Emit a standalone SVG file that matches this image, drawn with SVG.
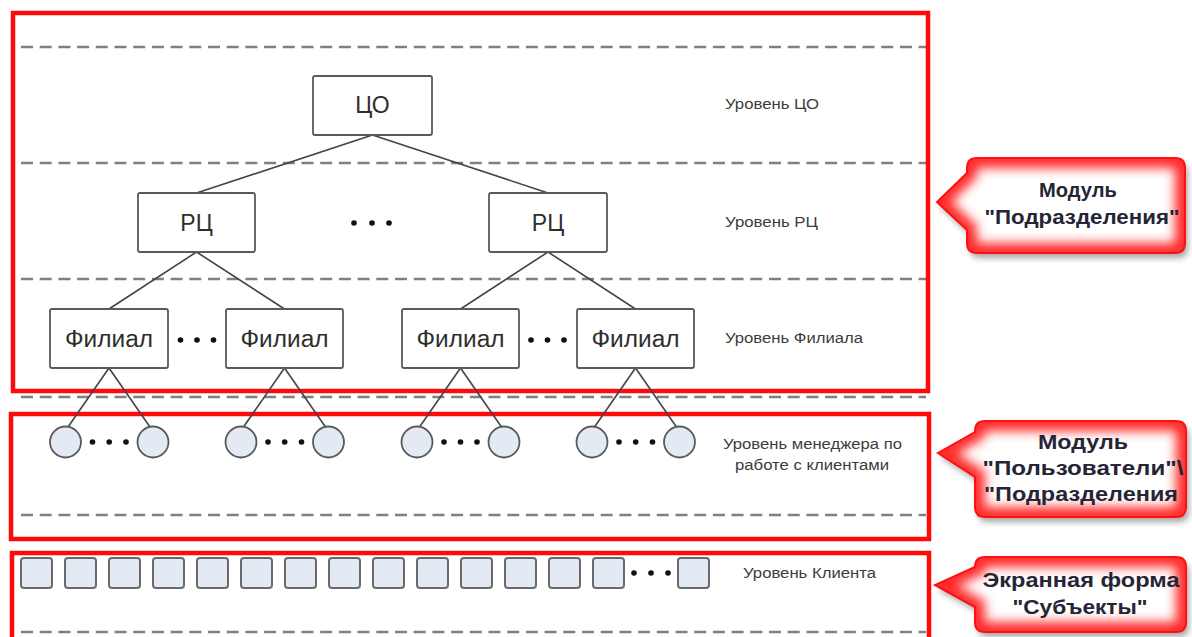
<svg xmlns="http://www.w3.org/2000/svg" xmlns:xlink="http://www.w3.org/1999/xlink" width="1192" height="637" viewBox="0 0 1192 637">
  <style>
    .frame { fill: none; stroke: #ff0a0a; stroke-width: 4.5; }
    .dash { stroke: #808080; stroke-width: 2.5; stroke-dasharray: 12 6.7; fill: none; }
    .box { fill: #ffffff; stroke: #5a5a5a; stroke-width: 1.8; }
    .boxtext { font-family: "Liberation Sans", Arial, sans-serif; font-size: 23px; fill: #2e2e2e; text-anchor: middle; }
    .mgr { fill: #e4eaf4; stroke: #5a5a5a; stroke-width: 1.8; }
    .client { fill: #e4eaf4; stroke: #6a6a6a; stroke-width: 2; }
    .dot { fill: #111111; }
    .edge { stroke: #444444; stroke-width: 1.6; fill: none; }
    .level { font-family: "Liberation Sans", Arial, sans-serif; font-size: 14px; fill: #3c3c3c; }
    .callout-bg { fill: #ffffff; }
    .glow { fill: none; stroke: #ff2a2a; stroke-width: 20; filter: url(#soft); }
    .callout-edge { fill: none; stroke: #ff1010; stroke-width: 2; }
    .ctext { font-family: "Liberation Sans", Arial, sans-serif; font-size: 21px; font-weight: bold; fill: #252535; text-anchor: middle; }
  </style>
  <defs>
    <filter id="soft" x="-20%" y="-20%" width="140%" height="140%">
      <feGaussianBlur stdDeviation="5.5"/>
    </filter>
    <filter id="shadow" x="-10%" y="-10%" width="125%" height="135%">
      <feDropShadow dx="3" dy="5" stdDeviation="3" flood-color="#000000" flood-opacity="0.35"/>
    </filter>
    <!-- callout outlines: rounded body with a pointer on the left side -->
    <path id="co1" d="M977,158 H1175 Q1185,158 1185,168 V243 Q1185,253 1175,253 H977 Q967,253 967,243 V230 L937,202 L967,173 V168 Q967,158 977,158 Z"/>
    <path id="co2" d="M985,421 H1176 Q1186,421 1186,431 V507 Q1186,517 1176,517 H985 Q975,517 975,507 V477 L938,453 L975,432 V431 Q975,421 985,421 Z"/>
    <path id="co3" d="M985,557 H1176 Q1186,557 1186,567 V622 Q1186,632 1176,632 H985 Q975,632 975,622 V607 L935,585 L975,567 Q975,557 985,557 Z"/>
    <clipPath id="clip1"><use xlink:href="#co1"/></clipPath>
    <clipPath id="clip2"><use xlink:href="#co2"/></clipPath>
    <clipPath id="clip3"><use xlink:href="#co3"/></clipPath>
  </defs>

  <rect width="1192" height="637" fill="#ffffff"/>

  <!-- level separators -->
  <g id="separators">
    <line class="dash" x1="21" y1="47" x2="926" y2="47"/>
    <line class="dash" x1="21" y1="163" x2="926" y2="163"/>
    <line class="dash" x1="21" y1="279" x2="926" y2="279"/>
    <line class="dash" x1="21" y1="397" x2="926" y2="397"/>
    <line class="dash" x1="21" y1="515" x2="926" y2="515"/>
    <line class="dash" x1="21" y1="632" x2="926" y2="632"/>
  </g>

  <!-- module frames -->
  <g id="frames">
    <rect class="frame" x="13" y="13" width="915" height="378"/>
    <rect class="frame" x="11" y="414" width="918" height="125"/>
    <rect class="frame" x="12" y="553" width="917" height="100"/>
  </g>

  <!-- connectors -->
  <g id="connectors">
    <line class="edge" x1="372.5" y1="135" x2="196.5" y2="193"/>
    <line class="edge" x1="372.5" y1="135" x2="548" y2="193"/>
    <line class="edge" x1="196.5" y1="252" x2="109" y2="309"/>
    <line class="edge" x1="196.5" y1="252" x2="284.5" y2="309"/>
    <line class="edge" x1="548" y1="252" x2="460.5" y2="309"/>
    <line class="edge" x1="548" y1="252" x2="635.5" y2="309"/>
    <line class="edge" x1="109" y1="368" x2="68" y2="427"/>
    <line class="edge" x1="109" y1="368" x2="150" y2="427"/>
    <line class="edge" x1="284.5" y1="368" x2="243.5" y2="427"/>
    <line class="edge" x1="284.5" y1="368" x2="325.5" y2="427"/>
    <line class="edge" x1="460.5" y1="368" x2="419.5" y2="427"/>
    <line class="edge" x1="460.5" y1="368" x2="501.5" y2="427"/>
    <line class="edge" x1="635.5" y1="368" x2="594.5" y2="427"/>
    <line class="edge" x1="635.5" y1="368" x2="676.5" y2="427"/>
  </g>

  <!-- head office -->
  <g id="node-co">
    <rect class="box" x="313" y="76" width="119" height="59" rx="2"/>
    <text class="boxtext" x="372.5" y="113">ЦО</text>
  </g>

  <!-- regional centres -->
  <g id="node-rc1">
    <rect class="box" x="138" y="193" width="117" height="59" rx="2"/>
    <text class="boxtext" x="196.5" y="231">РЦ</text>
  </g>
  <g id="node-rc2">
    <rect class="box" x="489" y="193" width="118" height="59" rx="2"/>
    <text class="boxtext" x="548" y="231">РЦ</text>
  </g>
  <g id="rc-dots">
    <circle class="dot" cx="354" cy="223" r="2.8"/>
    <circle class="dot" cx="372" cy="223" r="2.8"/>
    <circle class="dot" cx="389" cy="223" r="2.8"/>
  </g>

  <!-- branches -->
  <g id="node-f1">
    <rect class="box" x="50" y="309" width="118" height="59" rx="2"/>
    <text class="boxtext" x="109" y="347" textLength="88" lengthAdjust="spacingAndGlyphs">Филиал</text>
  </g>
  <g id="node-f2">
    <rect class="box" x="226" y="309" width="117" height="59" rx="2"/>
    <text class="boxtext" x="284.5" y="347" textLength="88" lengthAdjust="spacingAndGlyphs">Филиал</text>
  </g>
  <g id="node-f3">
    <rect class="box" x="402" y="309" width="117" height="59" rx="2"/>
    <text class="boxtext" x="460.5" y="347" textLength="88" lengthAdjust="spacingAndGlyphs">Филиал</text>
  </g>
  <g id="node-f4">
    <rect class="box" x="577" y="309" width="117" height="59" rx="2"/>
    <text class="boxtext" x="635.5" y="347" textLength="88" lengthAdjust="spacingAndGlyphs">Филиал</text>
  </g>
  <g id="branch-dots">
    <circle class="dot" cx="180.5" cy="340" r="2.8"/>
    <circle class="dot" cx="197" cy="340" r="2.8"/>
    <circle class="dot" cx="213.5" cy="340" r="2.8"/>
    <circle class="dot" cx="531" cy="340" r="2.8"/>
    <circle class="dot" cx="547.5" cy="340" r="2.8"/>
    <circle class="dot" cx="564" cy="340" r="2.8"/>
  </g>

  <!-- client managers -->
  <g id="node-m1"><circle class="mgr" cx="65.5" cy="442" r="15.5"/></g>
  <g id="node-m2"><circle class="mgr" cx="153" cy="442" r="15.5"/></g>
  <g id="node-m3"><circle class="mgr" cx="241" cy="442" r="15.5"/></g>
  <g id="node-m4"><circle class="mgr" cx="328.5" cy="442" r="15.5"/></g>
  <g id="node-m5"><circle class="mgr" cx="417" cy="442" r="15.5"/></g>
  <g id="node-m6"><circle class="mgr" cx="504" cy="442" r="15.5"/></g>
  <g id="node-m7"><circle class="mgr" cx="592" cy="442" r="15.5"/></g>
  <g id="node-m8"><circle class="mgr" cx="679.5" cy="442" r="15.5"/></g>
  <g id="manager-dots">
    <circle class="dot" cx="92.5" cy="442" r="2.8"/>
    <circle class="dot" cx="109.2" cy="442" r="2.8"/>
    <circle class="dot" cx="126" cy="442" r="2.8"/>
    <circle class="dot" cx="268" cy="442" r="2.8"/>
    <circle class="dot" cx="284.7" cy="442" r="2.8"/>
    <circle class="dot" cx="301.5" cy="442" r="2.8"/>
    <circle class="dot" cx="444" cy="442" r="2.8"/>
    <circle class="dot" cx="460.5" cy="442" r="2.8"/>
    <circle class="dot" cx="477" cy="442" r="2.8"/>
    <circle class="dot" cx="619" cy="442" r="2.8"/>
    <circle class="dot" cx="635.7" cy="442" r="2.8"/>
    <circle class="dot" cx="652.5" cy="442" r="2.8"/>
  </g>

  <!-- clients -->
  <g id="clients">
    <rect class="client" x="21" y="558" width="31" height="30" rx="3"/>
    <rect class="client" x="65" y="558" width="31" height="30" rx="3"/>
    <rect class="client" x="109" y="558" width="31" height="30" rx="3"/>
    <rect class="client" x="153" y="558" width="31" height="30" rx="3"/>
    <rect class="client" x="197" y="558" width="31" height="30" rx="3"/>
    <rect class="client" x="241" y="558" width="31" height="30" rx="3"/>
    <rect class="client" x="285" y="558" width="31" height="30" rx="3"/>
    <rect class="client" x="329" y="558" width="31" height="30" rx="3"/>
    <rect class="client" x="373" y="558" width="31" height="30" rx="3"/>
    <rect class="client" x="417" y="558" width="31" height="30" rx="3"/>
    <rect class="client" x="461" y="558" width="31" height="30" rx="3"/>
    <rect class="client" x="505" y="558" width="31" height="30" rx="3"/>
    <rect class="client" x="549" y="558" width="31" height="30" rx="3"/>
    <rect class="client" x="593" y="558" width="31" height="30" rx="3"/>
    <rect class="client" x="678" y="558" width="31" height="30" rx="3"/>
    <circle class="dot" cx="634" cy="573" r="2.8"/>
    <circle class="dot" cx="651" cy="573" r="2.8"/>
    <circle class="dot" cx="668" cy="573" r="2.8"/>
  </g>

  <!-- level captions -->
  <g id="level-labels">
    <text class="level" x="725" y="109" textLength="94" lengthAdjust="spacingAndGlyphs">Уровень ЦО</text>
    <text class="level" x="725" y="227" textLength="93" lengthAdjust="spacingAndGlyphs">Уровень РЦ</text>
    <text class="level" x="725" y="343" textLength="138" lengthAdjust="spacingAndGlyphs">Уровень Филиала</text>
    <text class="level" x="723" y="449" textLength="179" lengthAdjust="spacingAndGlyphs">Уровень менеджера по</text>
    <text class="level" x="735" y="470" textLength="154" lengthAdjust="spacingAndGlyphs">работе с клиентами</text>
    <text class="level" x="743" y="578" textLength="133" lengthAdjust="spacingAndGlyphs">Уровень Клиента</text>
  </g>

  <!-- callouts -->
  <g id="callout-units">
    <use xlink:href="#co1" class="callout-bg" filter="url(#shadow)"/>
    <g clip-path="url(#clip1)"><use xlink:href="#co1" class="glow"/></g>
    <use xlink:href="#co1" class="callout-edge"/>
    <text class="ctext" x="1078" y="197" textLength="78" lengthAdjust="spacingAndGlyphs">Модуль</text>
    <text class="ctext" x="1082" y="224" textLength="195" lengthAdjust="spacingAndGlyphs">"Подразделения"</text>
  </g>
  <g id="callout-users">
    <use xlink:href="#co2" class="callout-bg" filter="url(#shadow)"/>
    <g clip-path="url(#clip2)"><use xlink:href="#co2" class="glow"/></g>
    <use xlink:href="#co2" class="callout-edge"/>
    <text class="ctext" x="1083" y="449" textLength="90" lengthAdjust="spacingAndGlyphs">Модуль</text>
    <text class="ctext" x="1083" y="475" textLength="201" lengthAdjust="spacingAndGlyphs">"Пользователи"\</text>
    <text class="ctext" x="1081" y="501" textLength="194" lengthAdjust="spacingAndGlyphs">"Подразделения</text>
  </g>
  <g id="callout-subjects">
    <use xlink:href="#co3" class="callout-bg" filter="url(#shadow)"/>
    <g clip-path="url(#clip3)"><use xlink:href="#co3" class="glow"/></g>
    <use xlink:href="#co3" class="callout-edge"/>
    <text class="ctext" x="1081" y="587" textLength="197" lengthAdjust="spacingAndGlyphs">Экранная форма</text>
    <text class="ctext" x="1080" y="614" textLength="135" lengthAdjust="spacingAndGlyphs">"Субъекты"</text>
  </g>
</svg>
